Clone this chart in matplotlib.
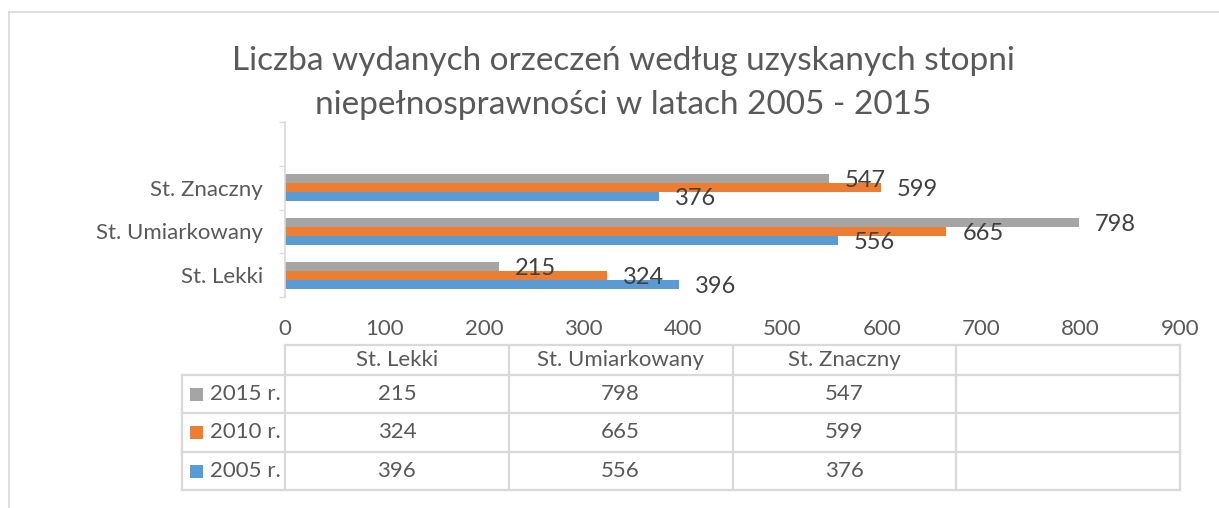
import numpy as np
import matplotlib
matplotlib.use("Agg")
import matplotlib.pyplot as plt
from matplotlib.patches import Rectangle
from matplotlib.transforms import blended_transform_factory

# --- data ---
title = "Liczba wydanych orzeczeń według uzyskanych stopni\nniepełnosprawności w latach 2005 - 2015"
categories = ["St. Lekki", "St. Umiarkowany", "St. Znaczny"]
series_names = ["2005 r.", "2010 r.", "2015 r."]
vals_2005 = [396, 556, 376]
vals_2010 = [324, 665, 599]
vals_2015 = [215, 798, 547]
x_ticks = [0, 100, 200, 300, 400, 500, 600, 700, 800, 900]

# --- style ---
plt.rcParams["font.family"] = ["Lato", "DejaVu Sans"]
col_2005 = "#5B9BD5"
col_2010 = "#ED7D31"
col_2015 = "#A5A5A5"
txt_col = "#595959"
line_col = "#D9D9D9"
fs_tick = 16
fs_label = 17

W, H = 1219, 508
fig = plt.figure(figsize=(W / 100, H / 100), dpi=100)


def px_box(x0, y0, x1, y1):
    """pixel box (top-left origin) -> figure fraction [l, b, w, h]"""
    return [x0 / W, 1 - y1 / H, (x1 - x0) / W, (y1 - y0) / H]


# overlay in pixel coords for border, title and table
bg = fig.add_axes([0, 0, 1, 1])
bg.set_xlim(0, W)
bg.set_ylim(H, 0)
bg.axis("off")

ax = fig.add_axes(px_box(285, 122, 1180, 297))
ax.patch.set_alpha(0)

# chart border
bg.plot([9, W], [12, 12], color=line_col, lw=1.2)
bg.plot([9, 9], [12, H], color=line_col, lw=1.2)

bg.text(623, 83, title, ha="center", va="center", fontsize=24,
        color=txt_col, linespacing=1.6)

# --- bars ---
h = 0.205
y = np.arange(len(categories))
for off, vals, c in [(-h, vals_2005, col_2005), (0, vals_2010, col_2010), (h, vals_2015, col_2015)]:
    bars = ax.barh(y + off, vals, height=h, color=c, edgecolor="none")
    for b, v in zip(bars, vals):
        ax.annotate(str(v), (v, b.get_y() + b.get_height() / 2), xytext=(11.5, -1.5),
                    textcoords="offset points", ha="left", va="center",
                    fontsize=fs_label, color="#404040")

ax.set_xlim(0, 900)
ax.set_ylim(-0.5, len(categories) + 0.5)
ax.set_xticks(x_ticks)
ax.set_xticklabels([str(t) for t in x_ticks])
ax.tick_params(axis="x", length=0, pad=16, labelsize=fs_tick, labelcolor=txt_col)
ax.set_yticks(y)
ax.set_yticklabels(categories)
ax.tick_params(axis="y", which="major", length=0, pad=16, labelsize=fs_tick, labelcolor=txt_col)
ax.set_yticks(np.arange(-0.5, len(categories) + 1), minor=True)
ax.tick_params(axis="y", which="minor", length=4, width=1, color=line_col, direction="out")
for s in ["top", "right", "bottom"]:
    ax.spines[s].set_visible(False)
ax.spines["left"].set_color(line_col)
ax.spines["left"].set_linewidth(1.2)

# --- data table under the axis ---
tr = blended_transform_factory(ax.transData, bg.transData)
col_edges = [0, 225, 450, 675, 900]
y_head, y_rows = 345, [375, 413, 452, 490]
lab_left = 182

for xe in col_edges:
    bg.plot([xe, xe], [y_head, y_rows[-1]], color=line_col, lw=1.6, transform=tr)
bg.plot([0, 900], [y_head, y_head], color=line_col, lw=1.6, transform=tr)
x_end_px = ax.transData.transform((900, 0))[0]
for yr in y_rows:
    bg.plot([lab_left, x_end_px], [yr, yr], color=line_col, lw=1.6)
bg.plot([lab_left, lab_left], [y_rows[0], y_rows[-1]], color=line_col, lw=1.6)

for i, cat in enumerate(categories):
    xc = (col_edges[i] + col_edges[i + 1]) / 2
    bg.text(xc, (y_head + y_rows[0]) / 2, cat, transform=tr, ha="center", va="center",
            fontsize=fs_tick, color=txt_col)

table_rows = [("2015 r.", vals_2015, col_2015), ("2010 r.", vals_2010, col_2010),
              ("2005 r.", vals_2005, col_2005)]
for r, (name, vals, c) in enumerate(table_rows):
    yc = (y_rows[r] + y_rows[r + 1]) / 2
    bg.add_patch(Rectangle((190, yc - 6.5), 13, 13, color=c, lw=0))
    bg.text(210, yc, name, ha="left", va="center", fontsize=fs_tick, color=txt_col)
    for i, v in enumerate(vals):
        xc = (col_edges[i] + col_edges[i + 1]) / 2
        bg.text(xc, yc, str(v), transform=tr, ha="center", va="center",
                fontsize=fs_tick, color=txt_col)

fig.savefig("out.png", dpi=100)
